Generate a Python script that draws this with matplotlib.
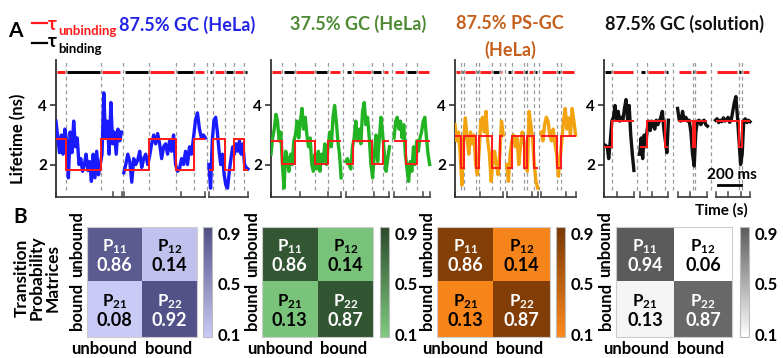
import numpy as np
import matplotlib
matplotlib.use("Agg")
import matplotlib.pyplot as plt
from matplotlib.colors import LinearSegmentedColormap, Normalize
from matplotlib.lines import Line2D

plt.rcParams['font.family'] = ['Lato', 'DejaVu Sans']
plt.rcParams['font.weight'] = 'bold'
plt.rcParams['mathtext.fontset'] = 'custom'
plt.rcParams['mathtext.bf'] = 'Lato:bold'
plt.rcParams['mathtext.rm'] = 'Lato:bold'
plt.rcParams['mathtext.default'] = 'bf'

# ----------------------------
# Panel A data: lifetime (ns) vs time (ms), fitted levels and switch times
# ----------------------------

# 87.5% GC (HeLa)
gc875_seg_start = [0, 590, 1330]
gc875_seg_end = [570, 1300, 1670]
gc875_breaks = [[90, 390], [810, 1040, 1200], [1370, 1470, 1550, 1640]]
gc875_levels = [[2.88, 1.8, 2.88], [1.8, 2.88, 1.8, 2.88], [1.8, 2.88, 1.8, 2.88, 1.8]]
gc875_trace = [
    [3.47, 2.9, 2.4, 3.0, 2.35, 3.2, 2.8, 1.55, 3.1, 2.4, 3.47, 2.6, 2.9, 2.0, 2.2, 1.77, 2.0, 2.35, 1.8,
     2.1, 1.43, 2.35, 1.55, 2.45, 1.65, 2.0, 2.35, 4.43, 2.9, 3.47, 2.35, 4.1, 2.7, 3.1, 2.35, 3.2, 2.8, 3.1],
    [1.72, 2.0, 2.35, 2.1, 1.4, 2.2, 2.0, 2.15, 2.45, 1.9, 2.2, 2.35, 2.0, 2.3, 2.7, 3.0, 2.7, 3.05, 2.7, 2.2,
     2.6, 2.7, 2.35, 2.8, 2.45, 3.0, 2.0, 1.77, 1.85, 2.2, 2.0, 2.45, 2.0, 2.6, 2.35, 2.9, 3.5, 3.75, 3.2, 2.9,
     3.0, 2.9],
    [2.0, 1.2, 2.8, 3.5, 3.6, 3.1, 2.45, 2.0, 2.35, 1.65, 1.3, 1.2, 1.75, 2.2, 2.6, 2.35, 2.7, 2.45, 2.8, 2.35,
     2.7, 2.0, 1.9, 1.85],
]

# 37.5% GC (HeLa)
gc375_seg_start = [0, 650, 1070]
gc375_seg_end = [610, 1030, 1380]
gc375_breaks = [[100, 210, 380, 500], [710, 880, 970], [1170, 1270]]
gc375_levels = [[2.78, 2.03, 2.78, 2.03, 2.78], [2.03, 2.78, 2.03, 2.78], [2.78, 2.03, 2.78]]
gc375_trace = [
    [2.35, 2.9, 3.2, 3.7, 3.47, 2.8, 3.1, 2.0, 1.2, 2.45, 2.2, 1.77, 2.35, 2.0, 2.8, 3.0, 3.47, 2.9, 3.47, 3.9,
     3.2, 3.6, 3.0, 2.6, 2.9, 2.0, 1.77, 2.35, 1.85, 2.45, 1.77, 2.35, 2.1, 2.7, 2.0, 2.6, 3.1, 2.6, 3.6, 4.0,
     3.47, 2.8, 2.35, 1.55],
    [2.1, 2.2, 2.0, 1.85, 2.6, 2.9, 3.47, 2.8, 3.2, 2.7, 3.8, 4.1, 3.35, 3.6, 2.9, 2.0, 1.55, 2.35, 3.0, 2.1,
     2.9, 3.6, 3.0, 2.35, 1.77, 2.2, 2.6],
    [2.9, 3.47, 3.6, 3.2, 3.47, 2.9, 3.35, 2.35, 1.85, 1.43, 2.1, 1.77, 2.6, 2.0, 2.8, 2.45, 2.9, 3.1, 3.47,
     3.6, 2.9, 2.35, 2.0],
]

# 87.5% PS-GC (HeLa)
psgc_seg_start = [0, 450, 750]
psgc_seg_end = [420, 720, 1050]
psgc_breaks = [[50, 80, 180, 210, 320, 390], [500, 600, 630, 690], [890, 925]]
psgc_levels = [[2.98, 1.87, 2.98, 1.87, 2.98, 1.87, 2.98], [1.87, 2.98, 1.87, 2.98, 1.87], [2.98, 1.87, 2.98]]
psgc_trace = [
    [3.35, 2.8, 3.1, 2.35, 1.3, 2.8, 3.58, 2.9, 2.35, 3.1, 2.7, 3.0, 2.0, 1.65, 2.45, 3.47, 3.6, 3.1, 3.8, 2.8,
     2.35, 1.43, 2.1, 2.45, 2.0, 1.65, 2.35, 3.47, 3.0],
    [2.0, 1.43, 2.35, 2.8, 3.0, 2.6, 2.9, 2.0, 2.6, 3.1, 2.8, 2.35, 1.77, 3.8, 3.35, 2.9, 2.0, 1.43, 1.2],
    [3.1, 2.8, 3.35, 3.6, 3.47, 3.0, 2.8, 3.2, 2.7, 2.35, 1.6, 2.2, 2.8, 3.47, 3.9, 3.2, 3.58, 3.0, 3.9, 3.47,
     3.0],
]

# 87.5% GC (solution)
sol_seg_start = [0, 310, 640, 970]
sol_seg_end = [260, 560, 900, 1270]
sol_breaks = [[70], [370, 530], [770, 790], [1170, 1200]]
sol_levels = [[2.6, 3.46], [2.6, 3.46, 2.6], [3.46, 2.6, 3.46], [3.46, 2.6, 3.46]]
sol_trace = [
    [2.67, 2.65, 2.6, 2.2, 2.8, 3.47, 3.6, 4.0, 3.5, 3.8, 3.47, 3.6, 3.5, 3.9, 4.2, 3.5, 4.0, 3.0, 2.35, 1.8],
    [2.35, 2.9, 2.2, 3.0, 2.6, 3.2, 3.47, 3.15, 3.47, 3.35, 3.2, 3.5, 3.35, 3.47, 3.6, 3.8, 3.2, 2.8, 2.4, 3.5],
    [3.9, 3.5, 3.47, 3.8, 3.5, 3.6, 3.47, 3.5, 3.1, 2.35, 1.95, 3.1, 3.47, 3.5, 3.35, 3.47, 3.5, 3.35, 3.3],
    [3.5, 3.55, 3.42, 3.5, 3.45, 3.58, 3.47, 3.52, 3.6, 3.43, 3.5, 3.8, 4.1, 4.3, 3.6, 2.8, 2.0, 2.35, 3.47,
     3.55, 3.42, 3.5, 3.45],
]

TOP_LINE_Y = 5.12

# ----------------------------
# Panel B data: transition probability matrices
# ----------------------------
state_labels = ["unbound", "bound"]
gc875_tpm = [[0.86, 0.14], [0.08, 0.92]]
gc375_tpm = [[0.86, 0.14], [0.13, 0.87]]
psgc_tpm = [[0.86, 0.14], [0.13, 0.87]]
sol_tpm = [[0.94, 0.06], [0.13, 0.87]]
cbar_ticks = [0.1, 0.5, 0.9]

# ----------------------------
# Colours
# ----------------------------
RED = "#ff1a1a"
DASH_GREY = "#9a9a9a"

panels = [
    dict(title="87.5% GC (HeLa)", title_color="#2424e6", trace_color="#1a1aff",
         starts=gc875_seg_start, ends=gc875_seg_end, breaks=gc875_breaks, levels=gc875_levels,
         trace=gc875_trace, tpm=gc875_tpm, cmap=("#cacaf6", "#4f4f85"),
         rect=[0.0715, 0.4497, 0.2503, 0.3827], xmax=1705, tick_step=500,
         hm_rect=[0.1111, 0.0587, 0.1405, 0.3073], cb_left=0.2593),
    dict(title="37.5% GC (HeLa)", title_color="#4e8a34", trace_color="#22b322",
         starts=gc375_seg_start, ends=gc375_seg_end, breaks=gc375_breaks, levels=gc375_levels,
         trace=gc375_trace, tpm=gc375_tpm, cmap=("#7fcb7f", "#2b4a2b"),
         rect=[0.3461, 0.4497, 0.2056, 0.3827], xmax=1400, tick_step=250,
         hm_rect=[0.3346, 0.0587, 0.1418, 0.3073], cb_left=0.4853),
    dict(title="87.5% PS-GC\n(HeLa)", title_color="#c4601c", trace_color="#f2a30f",
         starts=psgc_seg_start, ends=psgc_seg_end, breaks=psgc_breaks, levels=psgc_levels,
         trace=psgc_trace, tpm=psgc_tpm, cmap=("#ff8a1c", "#773705"),
         rect=[0.5811, 0.4497, 0.1596, 0.3827], xmax=1088, tick_step=220,
         hm_rect=[0.5581, 0.0587, 0.1443, 0.3073], cb_left=0.7101),
    dict(title="87.5% GC (solution)", title_color="#111111", trace_color="#111111",
         starts=sol_seg_start, ends=sol_seg_end, breaks=sol_breaks, levels=sol_levels,
         trace=sol_trace, tpm=sol_tpm, cmap=("#ffffff", "#5a5a5a"),
         rect=[0.7714, 0.4497, 0.1941, 0.3827], xmax=1322, tick_step=110,
         hm_rect=[0.7867, 0.0587, 0.1481, 0.3073], cb_left=0.9451),
]

title_pos = [(0.2388, 0.930), (0.4572, 0.933), (0.6513, 0.933), (0.8736, 0.933)]

fig = plt.figure(figsize=(7.83, 3.58), dpi=100)

# ----------------------------
# Panel A: traces
# ----------------------------
for p in panels:
    ax = fig.add_axes(p["rect"])
    ax.set_xlim(0, p["xmax"])
    ax.set_ylim(0.9, 5.54)
    hi = max(max(lv) for lv in p["levels"])
    btrans = ax.get_xaxis_transform()

    for k, (s, e, br, lv, tr) in enumerate(zip(p["starts"], p["ends"], p["breaks"],
                                               p["levels"], p["trace"])):
        t = np.linspace(s, e, len(tr))
        ax.plot(t, tr, color=p["trace_color"], lw=2.4, solid_joinstyle="round", zorder=3)
        edges = [s] + list(br) + [e]
        ax.stairs(lv, edges, baseline=None, color=RED, lw=1.4, zorder=4)
        for a, b, l in zip(edges[:-1], edges[1:], lv):
            g = min(10, 0.25 * (b - a))
            ax.plot([a + g, b - g], [TOP_LINE_Y, TOP_LINE_Y], color=RED if l == hi else "black",
                    lw=2.1, solid_capstyle="butt", zorder=4)
        for b in br:
            ax.axvline(b, ymin=0.05, ymax=1, color=DASH_GREY, lw=0.9, dashes=(3, 2.5), zorder=1)
        if k > 0:
            mid = 0.5 * (p["ends"][k - 1] + s)
            ax.axvline(mid, ymin=0.05, ymax=1, color=DASH_GREY, lw=0.9, dashes=(3, 2.5), zorder=1)
        # broken time axis
        ax.plot([s, e], [0, 0], transform=btrans, color="#444444", lw=1.3, clip_on=False)
        ticks = list(np.arange(s, e - 40, p["tick_step"])) + [e]
        for tk in ticks:
            ax.plot([tk, tk], [0, 0.035], transform=btrans, color="#444444", lw=1.1, clip_on=False)

    for side in ["top", "right", "bottom"]:
        ax.spines[side].set_visible(False)
    ax.spines["left"].set_color("#333333")
    ax.spines["left"].set_linewidth(1.3)
    ax.set_xticks([])
    ax.set_yticks([2, 4])
    ax.tick_params(axis="y", length=4.5, width=1.2, pad=2, labelsize=11, color="#333333")

# scale bar on the solution panel
ax.plot([990, 1190], [1.29, 1.29], color="black", lw=2.0)
ax.text(1115, 1.64, "200 ms", ha="center", va="center", fontsize=11)

# titles
for p, (tx, ty) in zip(panels, title_pos):
    if "\n" in p["title"]:
        l1, l2 = p["title"].split("\n")
        fig.text(tx, ty, l1, color=p["title_color"], fontsize=13, ha="center", va="center")
        fig.text(tx, ty - 0.073, l2, color=p["title_color"], fontsize=13, ha="center", va="center")
    else:
        fig.text(tx, ty, p["title"], color=p["title_color"], fontsize=13, ha="center", va="center")

fig.text(0.0198, 0.913, "A", fontsize=15, ha="center", va="center")
fig.add_artist(Line2D([0.041, 0.060], [0.936, 0.936], color=RED, lw=1.6, transform=fig.transFigure))
fig.add_artist(Line2D([0.041, 0.060], [0.880, 0.880], color="black", lw=1.6, transform=fig.transFigure))
fig.text(0.0615, 0.932, "τ", color=RED, fontsize=13.5, ha="left", va="center")
fig.text(0.0745, 0.913, "unbinding", color=RED, fontsize=9.5, ha="left", va="center")
fig.text(0.0615, 0.884, "τ", color="black", fontsize=13.5, ha="left", va="center")
fig.text(0.0745, 0.862, "binding", color="black", fontsize=9.5, ha="left", va="center")

fig.text(0.023, 0.612, "Lifetime (ns)", rotation=90, fontsize=12, ha="center", va="center")
fig.text(0.921, 0.413, "Time (s)", fontsize=11, ha="center", va="center")

# ----------------------------
# Panel B: transition probability matrices
# ----------------------------
sub = [["11", "12"], ["21", "22"]]
for p in panels:
    hax = fig.add_axes(p["hm_rect"])
    cmap = LinearSegmentedColormap.from_list("tpm", list(p["cmap"]))
    norm = Normalize(vmin=0.08, vmax=0.95)
    mat = np.array(p["tpm"])
    im = hax.imshow(mat, cmap=cmap, norm=norm, aspect="auto")
    for i in range(2):
        for j in range(2):
            v = mat[i, j]
            tc = "white" if v > 0.5 else "black"
            hax.text(j, i - 0.15, r"$P_{%s}$" % sub[i][j], color=tc, fontsize=12,
                     ha="center", va="center")
            hax.text(j, i + 0.2, f"{v:.2f}", color=tc, fontsize=13, ha="center", va="center")
    hax.set_xticks([])
    hax.set_yticks([])
    for sp in hax.spines.values():
        sp.set_color("#cccccc")
        sp.set_linewidth(0.8)
    xt = hax.get_xaxis_transform()
    hax.text(0.41, -0.035, state_labels[0], transform=xt, ha="right", va="top", fontsize=12)
    hax.text(0.55, -0.035, state_labels[1], transform=xt, ha="left", va="top", fontsize=12)
    yt = hax.get_yaxis_transform()
    hax.text(-0.09, 0.41, state_labels[0], transform=yt, rotation=90, ha="center", va="bottom", fontsize=12)
    hax.text(-0.09, 0.52, state_labels[1], transform=yt, rotation=90, ha="center", va="top", fontsize=12)

    cax = fig.add_axes([p["cb_left"], p["hm_rect"][1], 0.0115, p["hm_rect"][3]])
    cb = fig.colorbar(im, cax=cax, ticks=cbar_ticks)
    cb.outline.set_edgecolor("#bbbbbb")
    cb.outline.set_linewidth(0.8)
    cax.tick_params(length=0, pad=4, labelsize=12)

fig.text(0.026, 0.393, "B", fontsize=15, ha="center", va="center")
fig.text(0.047, 0.224, "Transition\nProbability\nMatrices", rotation=90, fontsize=12.5,
         ha="center", va="center", linespacing=0.95, multialignment="center")

fig.savefig("out.png", dpi=100)
